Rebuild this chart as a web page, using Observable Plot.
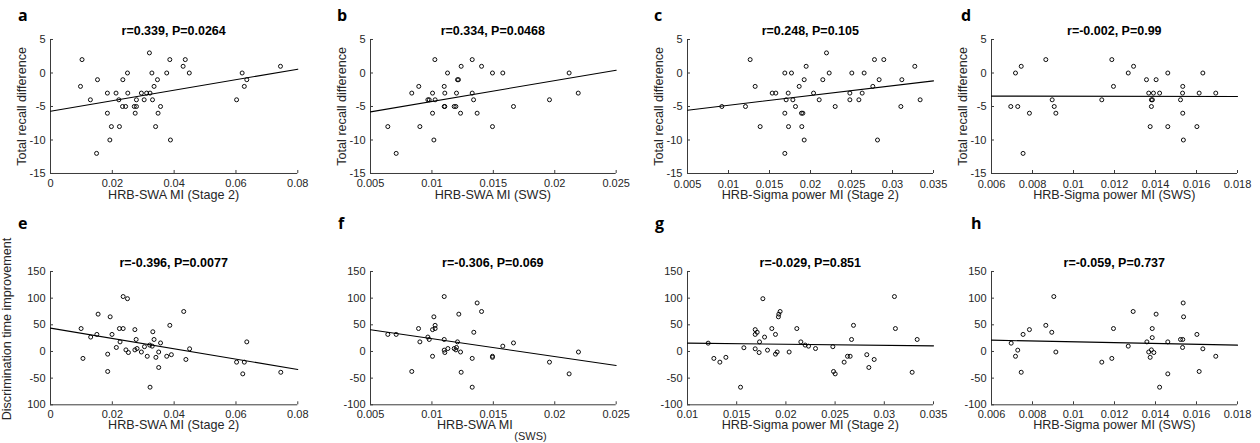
<!DOCTYPE html>
<html>
<head>
<meta charset="utf-8">
<script src="https://cdn.jsdelivr.net/npm/d3@7"></script>
<script src="https://cdn.jsdelivr.net/npm/@observablehq/plot@0.6"></script>
<style>
  html, body { margin: 0; padding: 0; background: #fff; }
  #chart { position: relative; width: 1260px; height: 443px; overflow: hidden; background: #fff; }
  #chart svg.panel { position: absolute; overflow: visible; }
  #overlay { position: absolute; left: 0; top: 0; pointer-events: none; }
</style>
</head>
<body>
<div id="chart"></div>
<script>
// ---------------- DATA ----------------
const panelLetters = ["a", "b", "c", "d", "e", "f", "g", "h"];
const panelTitles = [
  "r=0.339, P=0.0264", "r=0.334, P=0.0468", "r=0.248, P=0.105", "r=-0.002, P=0.99",
  "r=-0.396, P=0.0077", "r=-0.306, P=0.069", "r=-0.029, P=0.851", "r=-0.059, P=0.737"
];
const xAxisLabels = [
  "HRB-SWA MI (Stage 2)", "HRB-SWA MI (SWS)", "HRB-Sigma power MI (Stage 2)", "HRB-Sigma power MI (SWS)",
  "HRB-SWA MI (Stage 2)", "HRB-SWA MI", "HRB-Sigma power MI (Stage 2)", "HRB-Sigma power MI (SWS)"
];
const fSubLabel = "(SWS)";
const yAxisLabels = [
  "Total recall difference", "Total recall difference", "Total recall difference", "Total recall difference",
  "Discrimination time improvement", "", "", ""
];

const xDomains = [[0, 0.08], [0.005, 0.025], [0.005, 0.035], [0.006, 0.018],
                  [0, 0.08], [0.005, 0.025], [0.01, 0.035], [0.006, 0.018]];
const xTicksSwaS2 = [0, 0.02, 0.04, 0.06, 0.08];
const xTickLabelsSwaS2 = ["0", "0.02", "0.04", "0.06", "0.08"];
const xTicksSwaSws = [0.005, 0.01, 0.015, 0.02, 0.025];
const xTickLabelsSwaSws = ["0.005", "0.01", "0.015", "0.02", "0.025"];
const xTicksSigS2c = [0.005, 0.01, 0.015, 0.02, 0.025, 0.03, 0.035];
const xTickLabelsSigS2c = ["0.005", "0.01", "0.015", "0.02", "0.025", "0.03", "0.035"];
const xTicksSigS2g = [0.01, 0.015, 0.02, 0.025, 0.03, 0.035];
const xTickLabelsSigS2g = ["0.01", "0.015", "0.02", "0.025", "0.03", "0.035"];
const xTicksSigSws = [0.006, 0.008, 0.01, 0.012, 0.014, 0.016, 0.018];
const xTickLabelsSigSws = ["0.006", "0.008", "0.01", "0.012", "0.014", "0.016", "0.018"];

const yDomainRecall = [-15, 5];
const yTicksRecall = [-15, -10, -5, 0, 5];
const yTickLabelsRecall = ["-15", "-10", "-5", "0", "5"];
const yDomainDisc = [-100, 150];
const yTicksDisc = [-100, -50, 0, 50, 100, 150];
const yTickLabelsDiscE = ["100", "-50", "0", "50", "100", "150"];
const yTickLabelsDisc = ["-100", "-50", "0", "50", "100", "150"];

// fitted least-squares line, value at left and right axis limits
const fitLines = [[-5.7, 0.57], [-5.8, 0.42], [-5.55, -1.17], [-3.45, -3.5],
                  [43.75, -33.75], [40.6, -26.2], [15.6, 10.6], [21.2, 11.9]];

// panel a
const aX = [0.0097,0.0102,0.0129,0.0152,0.0149,0.0184,0.0184,0.0197,0.0192,0.0212,0.0221,0.0223,0.0234,0.0233,0.0243,0.0249,0.0250,0.0271,0.0274,0.0278,0.0278,0.0294,0.0303,0.0311,0.0320,0.0322,0.0328,0.0330,0.0335,0.0340,0.0346,0.0348,0.0356,0.0376,0.0386,0.0388,0.0429,0.0436,0.0449,0.0602,0.0620,0.0627,0.0635,0.0744];
const aY = [-2,2,-4,-1,-12,-3,-6,-8,-10,-3,-4,-8,-1,-5,-5,0,-3,-5,-6,-5,-4,-3,-4,-3,3,-3,0,-4,-2,-8,-1,-6,-5,0,2,-10,1,2,0,-4,0,-2,-1,1];
// panel b
const bX = [0.00641,0.00709,0.00836,0.00893,0.00902,0.00967,0.00978,0.01005,0.01005,0.01016,0.01024,0.01026,0.0110,0.01105,0.0110,0.01105,0.01127,0.01181,0.01195,0.0120,0.01208,0.01216,0.01233,0.01238,0.01328,0.01328,0.01339,0.01368,0.01404,0.01493,0.01493,0.01577,0.01664,0.01957,0.02117,0.02191];
const bY = [-8,-12,-3,-2,-8,-4,-4,-3,-6,-10,2,-4,-2,-3,-5,-5,0,-5,-5,-3,-1,-1,-6,1,2,-3,-4,-6,1,0,-8,0,-5,-4,0,-3];
// panel c
const cX = [0.00919,0.01207,0.01264,0.01325,0.01386,0.01533,0.01577,0.01687,0.01687,0.01687,0.01703,0.01728,0.01732,0.01768,0.01785,0.01817,0.01862,0.0189,0.01907,0.01894,0.01923,0.01923,0.01947,0.02037,0.02106,0.0215,0.02195,0.02228,0.02301,0.0248,0.0248,0.02504,0.0259,0.0263,0.02654,0.0276,0.0278,0.02817,0.02837,0.02894,0.03102,0.03114,0.03272,0.03337];
const cY = [-5,-5,2,-2,-8,-3,-3,0,-6,-12,-4,-3,-8,0,-4,-5,-2,-6,-6,-8,-1,-10,1,-3,-4,-1,3,0,-5,-3,-4,0,-4,-3,0,-2,2,-10,-1,2,-5,-1,1,-4];
// panel d
const dX = [0.00694,0.00717,0.00728,0.00745,0.00754,0.00785,0.00865,0.00896,0.00906,0.00914,0.01138,0.01187,0.01195,0.01267,0.01293,0.01356,0.01367,0.01374,0.0138,0.0138,0.01385,0.0139,0.01403,0.0142,0.0146,0.0146,0.01522,0.01532,0.01533,0.01533,0.01536,0.01602,0.01613,0.01631,0.01694];
const dY = [-5,0,-5,1,-12,-6,2,-4,-5,-6,-4,2,-2,0,1,-1,-3,-8,-5,-4,-4,-3,-1,-3,0,-8,-4,-3,-2,-6,-10,-8,-3,0,-3];
// panel e
const eX = [0.0099,0.0105,0.0130,0.0150,0.0154,0.0185,0.0185,0.0193,0.0199,0.0213,0.0223,0.0225,0.0235,0.0235,0.0244,0.0249,0.0252,0.0273,0.0273,0.0277,0.0280,0.0294,0.0304,0.0313,0.0321,0.0322,0.0329,0.0331,0.0335,0.0341,0.0350,0.0350,0.0356,0.0376,0.0386,0.0391,0.0431,0.0438,0.0450,0.0602,0.0622,0.0627,0.0635,0.0745];
const eY = [43,-13,27,32,70,-5,-37.5,65,32,7.5,43,18,43,103,3,99,-2,41,3,22.5,5.5,-1,9,-9,12,-67,10,37,22.5,-11,-1,-30,16,-9,49,-6,75,-15,5,-20,-42,-20,18,-39];
// panel f
const fX = [0.00641,0.00709,0.00836,0.00891,0.00902,0.00967,0.00978,0.01005,0.01005,0.01016,0.01026,0.01026,0.0110,0.0110,0.0110,0.01105,0.0113,0.01181,0.01195,0.0120,0.01208,0.01219,0.01233,0.01238,0.01328,0.01328,0.01341,0.01368,0.01404,0.01493,0.01493,0.01577,0.01664,0.01957,0.02117,0.02193];
const fY = [32,32,-37.5,43,18,27,22.5,-9,41,65,49,43,103,22.5,2.5,-2,5.5,5.5,3,7.5,18,70,-1,-39,-13,-67,36,91,75,-9,-11,10,16,-20,-42,-1];
// panel g
const gX = [0.0121,0.01268,0.01329,0.0139,0.01539,0.01573,0.01688,0.01688,0.01688,0.01708,0.01728,0.01732,0.01766,0.01783,0.01813,0.01857,0.01894,0.01894,0.01911,0.01924,0.01928,0.01941,0.02033,0.02111,0.02152,0.02196,0.0223,0.02301,0.02477,0.02484,0.02501,0.02592,0.02626,0.02653,0.02667,0.02687,0.02822,0.02843,0.02897,0.03103,0.03113,0.03283,0.03334];
const gY = [15.6,-13,-20,-11,-67,7,41,32,5,36,-2,18,99,27,2.5,43,32,-5,-1,65,70,75,-1,43,18,12,10,5.5,9,-37.5,-42,-20,-9,-9,22.5,49,-6,-30,-15,103,43,-39,22.5];
// panel h
const hX = [0.00696,0.00717,0.00728,0.00745,0.00754,0.00785,0.00865,0.00894,0.00904,0.00914,0.01138,0.01187,0.01195,0.01267,0.01291,0.01358,0.01367,0.01374,0.0138,0.01384,0.01384,0.01392,0.01403,0.0142,0.0146,0.0146,0.01522,0.01532,0.01533,0.01535,0.01537,0.01602,0.01613,0.01631,0.01694];
const hY = [15.6,-9,2.5,-39,32,41,49,36,103,-1,-20,-13,43,10,75,18,-1,-11,3,26,43,-2,70,-67,18,-42,22.5,7.5,22.5,91,65,32,-37.5,5,-9];

// ---------------- LAYOUT ----------------
const colX = [[50, 297.3], [370, 615.7], [687.3, 933.3], [991.3, 1237.3]];
const rowY = [[39.3, 173.3], [270.7, 404]];
const letterX = [18, 337, 654, 961, 18, 338, 655, 971];
const letterBase = [21, 228.5];
const titleBase = [35, 266.5];
const xLabelBase = [199.3, 429];
const xTickPad = [6.2, 5];

const panels = [
  {X: aX, Y: aY, xTicks: xTicksSwaS2, xLab: xTickLabelsSwaS2, yDomain: yDomainRecall, yTicks: yTicksRecall, yLab: yTickLabelsRecall},
  {X: bX, Y: bY, xTicks: xTicksSwaSws, xLab: xTickLabelsSwaSws, yDomain: yDomainRecall, yTicks: yTicksRecall, yLab: yTickLabelsRecall},
  {X: cX, Y: cY, xTicks: xTicksSigS2c, xLab: xTickLabelsSigS2c, yDomain: yDomainRecall, yTicks: yTicksRecall, yLab: yTickLabelsRecall},
  {X: dX, Y: dY, xTicks: xTicksSigSws, xLab: xTickLabelsSigSws, yDomain: yDomainRecall, yTicks: yTicksRecall, yLab: yTickLabelsRecall},
  {X: eX, Y: eY, xTicks: xTicksSwaS2, xLab: xTickLabelsSwaS2, yDomain: yDomainDisc, yTicks: yTicksDisc, yLab: yTickLabelsDiscE},
  {X: fX, Y: fY, xTicks: xTicksSwaSws, xLab: xTickLabelsSwaSws, yDomain: yDomainDisc, yTicks: yTicksDisc, yLab: yTickLabelsDisc},
  {X: gX, Y: gY, xTicks: xTicksSigS2g, xLab: xTickLabelsSigS2g, yDomain: yDomainDisc, yTicks: yTicksDisc, yLab: yTickLabelsDisc},
  {X: hX, Y: hY, xTicks: xTicksSigSws, xLab: xTickLabelsSigSws, yDomain: yDomainDisc, yTicks: yTicksDisc, yLab: yTickLabelsDisc}
];

const AXIS = "#3a3a3a";
const TEXT = "#262626";
const FONT = "'Liberation Sans', Arial, Helvetica, sans-serif";
const root = document.getElementById("chart");

panels.forEach((p, i) => {
  const col = i % 4, row = Math.floor(i / 4);
  const [L, R] = colX[col], [T, B] = rowY[row];
  const W = R - L, H = B - T;
  const mL = 50, mR = 14, mT = 8, mB = 30;
  const [x0, x1] = xDomains[i];
  const [y0, y1] = p.yDomain;
  const tkY = (y1 - y0) * 3 / H;   // 3px inward tick length in data units
  const tkX = (x1 - x0) * 3 / W;
  const xFmt = new Map(p.xTicks.map((t, k) => [t, p.xLab[k]]));
  const yFmt = new Map(p.yTicks.map((t, k) => [t, p.yLab[k]]));
  const svg = Plot.plot({
    width: mL + W + mR,
    height: mT + H + mB,
    marginLeft: mL, marginRight: mR, marginTop: mT, marginBottom: mB,
    x: {domain: xDomains[i], label: null},
    y: {domain: p.yDomain, label: null},
    style: {fontFamily: FONT, fontSize: "11px", color: TEXT, background: "transparent", overflow: "visible"},
    marks: [
      Plot.axisX(p.xTicks, {tickSize: 0, tickPadding: xTickPad[row], tickFormat: d => xFmt.get(d), label: null, fill: TEXT}),
      Plot.axisY(p.yTicks, {tickSize: 0, tickPadding: 5, tickFormat: d => yFmt.get(d), label: null, fill: TEXT}),
      Plot.ruleX(p.xTicks, {x: d => d, y1: y0, y2: y0 + tkY, stroke: AXIS, strokeWidth: 1}),
      Plot.ruleY(p.yTicks, {y: d => d, x1: x0, x2: x0 + tkX, stroke: AXIS, strokeWidth: 1}),
      Plot.ruleY([y0], {stroke: AXIS, strokeWidth: 1}),
      Plot.ruleX([x0], {stroke: AXIS, strokeWidth: 1}),
      Plot.line([0, 1], {x: k => xDomains[i][k], y: k => fitLines[i][k], stroke: "black", strokeWidth: 1.1}),
      Plot.dot(p.X, {x: p.X, y: p.Y, r: 2, stroke: "black", strokeWidth: 0.95, fill: "none"})
    ]
  });
  svg.classList.add("panel");
  svg.style.left = (L - mL) + "px";
  svg.style.top = (T - mT) + "px";
  root.appendChild(svg);
});

// overlay text: panel letters, titles, axis labels
const ov = d3.select(root).append("svg").attr("id", "overlay")
  .attr("width", 1260).attr("height", 443)
  .style("font-family", FONT);

panels.forEach((p, i) => {
  const col = i % 4, row = Math.floor(i / 4);
  const [L, R] = colX[col], [T, B] = rowY[row];
  const cx = (L + R) / 2, cy = (T + B) / 2;
  ov.append("text").text(panelLetters[i])
    .attr("x", letterX[i]).attr("y", letterBase[row])
    .style("font-family", "'Open Sans', Lato, sans-serif")
    .style("font-weight", "bold").style("font-size", "16px").attr("fill", "black");
  ov.append("text").text(panelTitles[i])
    .attr("x", cx).attr("y", titleBase[row]).attr("text-anchor", "middle")
    .style("font-weight", "bold").style("font-size", "12.5px").attr("fill", "black");
  ov.append("text").text(xAxisLabels[i])
    .attr("x", i === 5 ? cx - 18 : cx).attr("y", xLabelBase[row]).attr("text-anchor", "middle")
    .style("font-size", "12.6px").attr("fill", TEXT);
  if (yAxisLabels[i]) {
    const ycx = i === 4 ? 329 : cy;
    const bx = i === 4 ? L - 39.5 : L - 24;
    ov.append("text").text(yAxisLabels[i])
      .attr("transform", `translate(${bx},${ycx}) rotate(-90)`)
      .attr("text-anchor", "middle")
      .style("font-size", "12.6px").attr("fill", TEXT);
  }
});
// panel f: detached "(SWS)" fragment of the x label
ov.append("text").text(fSubLabel)
  .attr("x", 530.5).attr("y", 439.5).attr("text-anchor", "middle")
  .style("font-size", "11px").attr("fill", TEXT);
</script>
</body>
</html>
